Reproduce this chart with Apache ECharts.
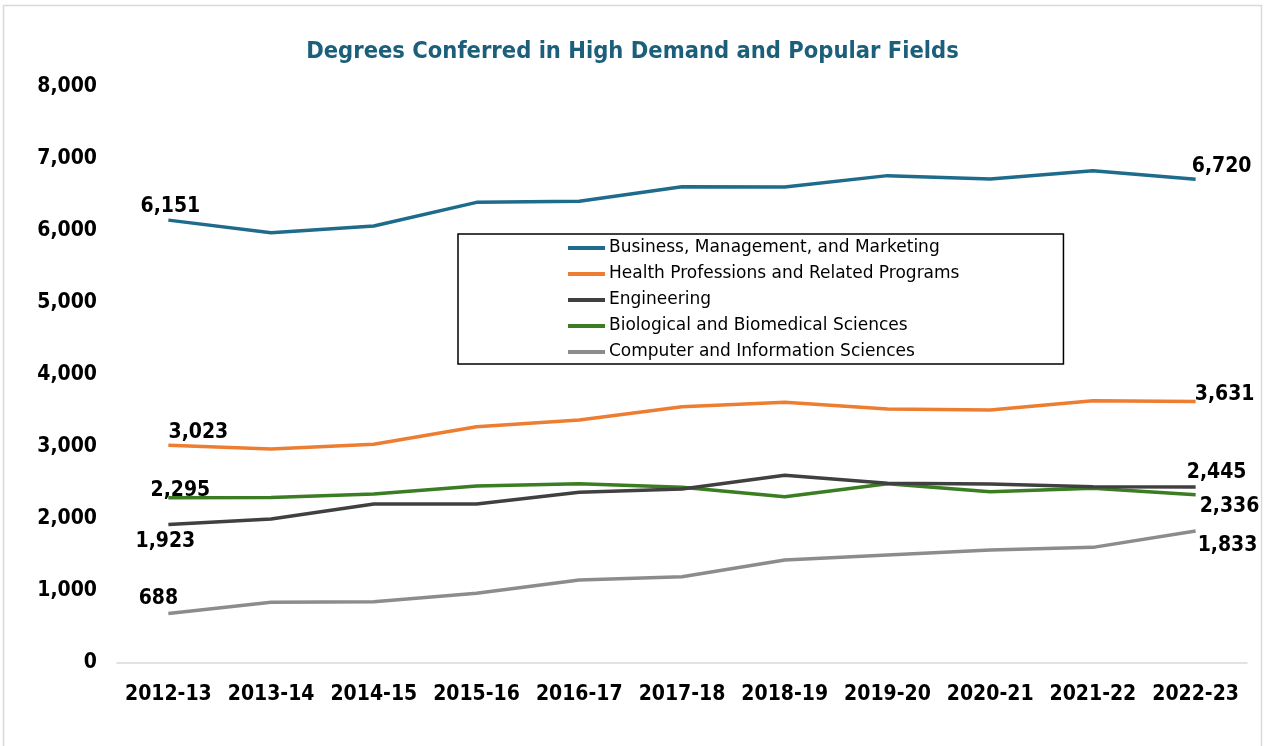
<!DOCTYPE html>
<html>
<head>
<meta charset="utf-8">
<script src="https://cdn.jsdelivr.net/npm/echarts@6/dist/echarts.min.js"></script>
<style>
html,body{margin:0;padding:0;background:#fff;}
#main{width:1265px;height:746px;}
</style>
</head>
<body>
<div id="main"></div>
<script>
const categories = ['2012-13','2013-14','2014-15','2015-16','2016-17','2017-18','2018-19','2019-20','2020-21','2021-22','2022-23'];
const business    = [6151, 5976, 6069, 6398, 6412, 6616, 6610, 6769, 6722, 6838, 6720];
const health      = [3023, 2972, 3037, 3282, 3375, 3560, 3620, 3528, 3514, 3643, 3631];
const engineering = [1923, 2000, 2208, 2208, 2370, 2417, 2607, 2495, 2486, 2449, 2445];
const biology     = [2295, 2300, 2347, 2458, 2490, 2440, 2310, 2490, 2380, 2426, 2336];
const computer    = [688, 843, 850, 968, 1153, 1199, 1431, 1500, 1569, 1606, 1833];
const seriesNames = ['Business, Management, and Marketing','Health Professions and Related Programs','Engineering','Biological and Biomedical Sciences','Computer and Information Sciences'];
const yTicks = [0, 1000, 2000, 3000, 4000, 5000, 6000, 7000, 8000];

const FONT = "'DejaVu Sans Condensed', 'DejaVu Sans', sans-serif";
const LFONT = "'DejaVu Sans', sans-serif";
const colors = ['#1F6B8C', '#ED7D31', '#404040', '#3A7D22', '#8C8C8C'];
const fmt = v => v.toLocaleString('en-US');

// label placement for first / last points: [position, offsetX, offsetY]
const labelCfg = [
  [['top', 2, 2], ['top', 26, 3]],
  [['top', 30, 3], ['top', 29, 8]],
  [['bottom', -3, 2], ['top', 21, 1]],
  [['top', 12, 8], ['right', -1, 12]],
  [['top', -10, 1], ['right', -3, 15]]
];
const allData = [business, health, engineering, biology, computer];

function buildData(vals, si) {
  const last = vals.length - 1;
  return vals.map((v, i) => {
    if (i === 0 || i === last) {
      const c = labelCfg[si][i === 0 ? 0 : 1];
      return {
        value: v,
        label: {
          show: true, position: c[0], offset: [c[1], c[2]],
          formatter: p => fmt(p.value),
          fontFamily: FONT, fontWeight: 'bold', fontSize: 21, color: '#000'
        }
      };
    }
    return v;
  });
}

const chart = echarts.init(document.getElementById('main'), null, {renderer: 'canvas'});
chart.setOption({
  animation: false,
  backgroundColor: '#fff',
  title: {
    text: 'Degrees Conferred in High Demand and Popular Fields',
    left: 'center', top: 35,
    textStyle: {fontFamily: FONT, fontWeight: 'bold', fontSize: 23.5, color: '#1B5F7B'}
  },
  graphic: [{
    type: 'rect', silent: true,
    shape: {x: 3.5, y: 5.5, width: 1258, height: 760},
    style: {fill: 'none', stroke: '#D9D9D9', lineWidth: 1.5}
  }],
  legend: {
    orient: 'vertical', left: 458, top: 234,
    padding: [5, 104, 3, 110],
    borderColor: '#000', borderWidth: 1.5,
    icon: 'rect', itemWidth: 37, itemHeight: 4, itemGap: 8,
    textStyle: {fontFamily: LFONT, fontSize: 17, color: '#000', lineHeight: 18, padding: [0,0,0,-1]},
    data: seriesNames
  },
  grid: {left: 117, right: 18, top: 87, bottom: 83, containLabel: false},
  xAxis: {
    type: 'category', data: categories, boundaryGap: true,
    axisLine: {show: true, lineStyle: {color: '#D9D9D9', width: 1.5}},
    axisTick: {show: false},
    axisLabel: {interval: 0, hideOverlap: false, fontFamily: FONT, fontWeight: 'bold', fontSize: 21, color: '#000', margin: 21}
  },
  yAxis: {
    type: 'value', min: yTicks[0], max: yTicks[yTicks.length-1], interval: 1000,
    axisLine: {show: false}, axisTick: {show: false}, splitLine: {show: false},
    axisLabel: {fontFamily: FONT, fontWeight: 'bold', fontSize: 21, color: '#000', margin: 20,
      padding: [5, 0, 0, 0], formatter: v => fmt(v)}
  },
  series: allData.map((vals, si) => ({
    name: seriesNames[si], type: 'line', data: buildData(vals, si),
    symbol: 'circle', symbolSize: 0, showSymbol: true, smooth: false,
    lineStyle: {width: 3.5, color: colors[si]},
    itemStyle: {color: colors[si]},
    z: 10 - si
  }))
});
</script>
</body>
</html>
